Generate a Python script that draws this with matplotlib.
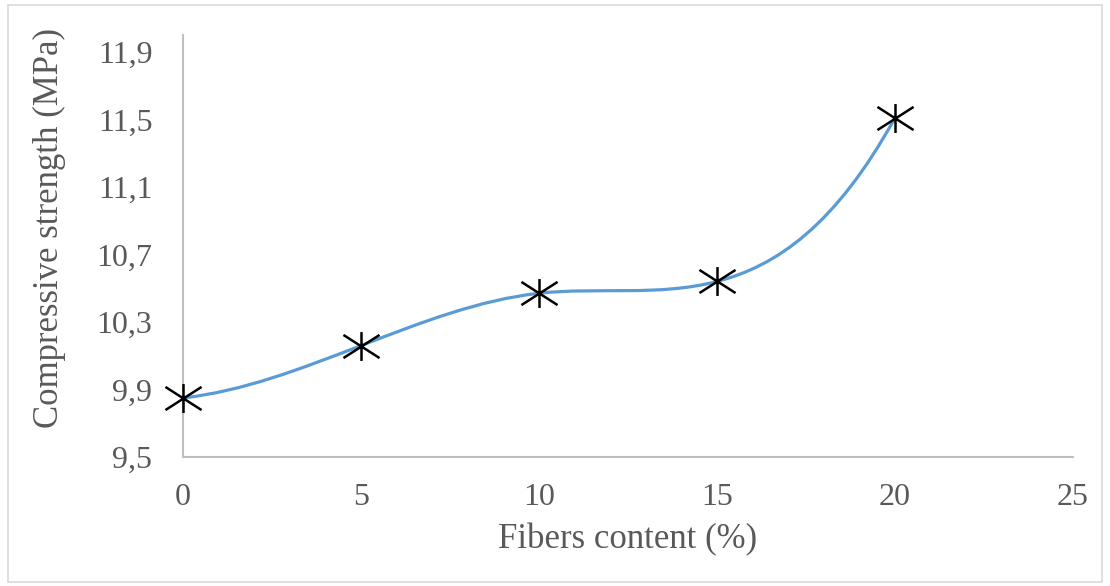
import numpy as np
import matplotlib
matplotlib.use('Agg')
import matplotlib.pyplot as plt
from matplotlib.path import Path
from matplotlib.patches import PathPatch, Rectangle
from matplotlib.ticker import FuncFormatter

# data
fibers = [0, 5, 10, 15, 20]
strength = [9.85, 10.16, 10.47, 10.54, 11.51]

x_ticks = [0, 5, 10, 15, 20, 25]
y_ticks = [9.5, 9.9, 10.3, 10.7, 11.1, 11.5, 11.9]

plt.rcParams['font.family'] = ['Liberation Serif', 'DejaVu Serif']


def spline_slopes(x, y):
    '''
    Slopes of a not-a-knot cubic spline through the points (same system as matlab spline).
    '''
    x = np.asarray(x, float)
    y = np.asarray(y, float)
    n = len(x)
    dx = np.diff(x)
    dd = np.diff(y) / dx
    A = np.zeros((n, n))
    b = np.zeros(n)
    for i in range(1, n - 1):
        A[i, i - 1] = dx[i]
        A[i, i] = 2 * (dx[i - 1] + dx[i])
        A[i, i + 1] = dx[i - 1]
        b[i] = 3 * (dx[i] * dd[i - 1] + dx[i - 1] * dd[i])
    x31 = x[2] - x[0]
    A[0, 0] = dx[1]
    A[0, 1] = x31
    b[0] = ((dx[0] + 2 * x31) * dx[1] * dd[0] + dx[0] ** 2 * dd[1]) / x31
    xn = x[-1] - x[-3]
    A[-1, -2] = xn
    A[-1, -1] = dx[-2]
    b[-1] = (dx[-1] ** 2 * dd[-2] + (2 * xn + dx[-1]) * dx[-2] * dd[-1]) / xn
    return np.linalg.solve(A, b)


def smooth_path(xs, ys):
    '''
    Smoothed line as cubic bezier segments (hermite form of the spline).
    '''
    s = spline_slopes(xs, ys)
    verts = [(xs[0], ys[0])]
    codes = [Path.MOVETO]
    for i in range(len(xs) - 1):
        h = (xs[i + 1] - xs[i]) / 3.0
        verts += [(xs[i] + h, ys[i] + s[i] * h),
                  (xs[i + 1] - h, ys[i + 1] - s[i + 1] * h),
                  (xs[i + 1], ys[i + 1])]
        codes += [Path.CURVE4] * 3
    return Path(verts, codes)


# asterisk marker: vertical bar plus a wide X
star = Path([(0, 1), (0, -1), (-1.25, 0.8), (1.25, -0.8), (-1.25, -0.8), (1.25, 0.8)],
            [Path.MOVETO, Path.LINETO] * 3)

fig = plt.figure(figsize=(11.1, 5.86), dpi=100)
ax = fig.add_axes([0.1649, 0.2201, 0.8018, 0.7202])

fig.patches.append(Rectangle((0.007, 0.007), 0.986, 0.984, transform=fig.transFigure,
                             fill=False, edgecolor='#D9D9D9', linewidth=1.2))

ax.add_patch(PathPatch(smooth_path(fibers, strength), facecolor='none',
                       edgecolor='#5B9BD5', linewidth=2.3, zorder=2))
ax.plot(fibers, strength, linestyle='none', marker=star, markersize=26,
        markeredgewidth=1.8, markeredgecolor='black', color='black', zorder=3,
        clip_on=False)

ax.set_xlim(0, 25)
ax.set_ylim(9.5, 12.0)
ax.set_xticks(x_ticks)
ax.set_yticks(y_ticks)
comma = FuncFormatter(lambda v, p: ('%g' % round(v, 1)).replace('.', ','))
ax.xaxis.set_major_formatter(comma)
ax.yaxis.set_major_formatter(comma)
ax.tick_params(length=0, labelsize=23, labelcolor='#595959')
ax.tick_params(axis='x', pad=19)
ax.tick_params(axis='y', pad=22)

for s in ['top', 'right']:
    ax.spines[s].set_visible(False)
for s in ['left', 'bottom']:
    ax.spines[s].set_color('#BFBFBF')
    ax.spines[s].set_linewidth(1.5)

ax.set_xlabel('Fibers content (%)', fontsize=25, color='#595959')
ax.set_ylabel('Compressive strength (MPa)', fontsize=25, color='#595959')
ax.xaxis.set_label_coords(0.5, -0.156)
ax.yaxis.set_label_coords(-0.131, 0.543)

fig.savefig('out.png', dpi=100)
